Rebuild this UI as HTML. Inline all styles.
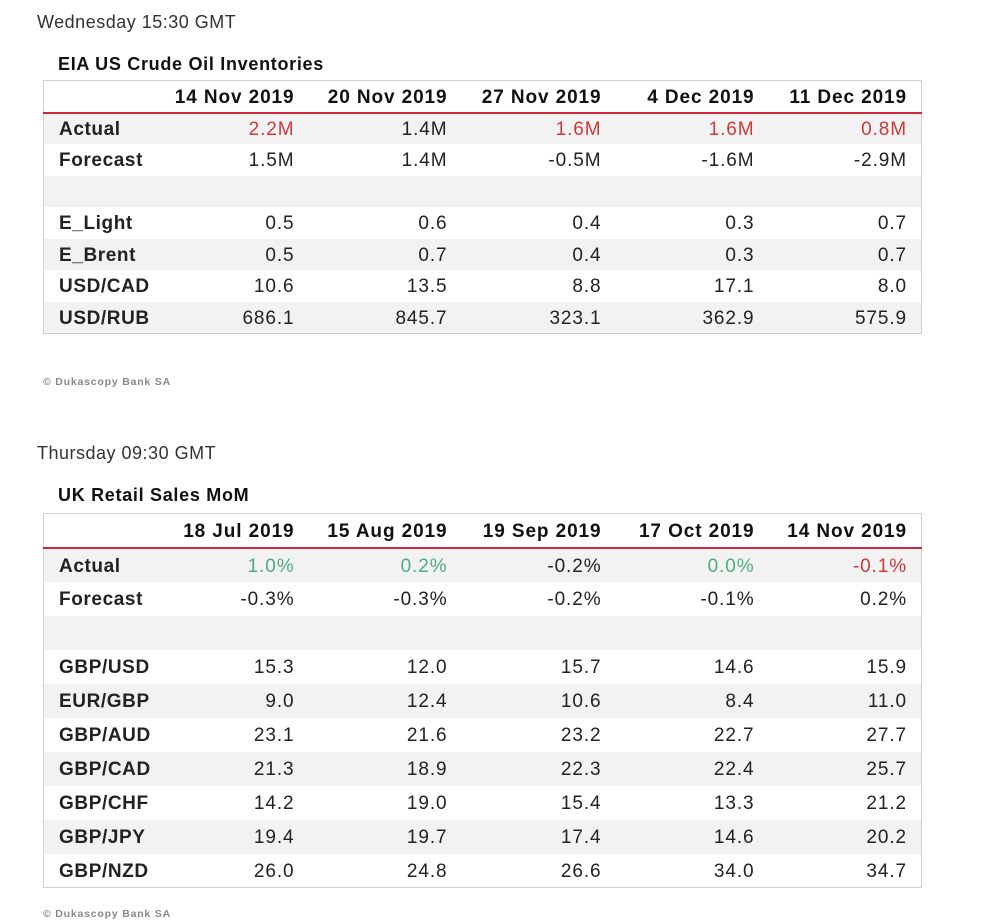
<!DOCTYPE html>
<html><head><meta charset="utf-8"><style>
body{margin:0;background:#fff;width:992px;height:923px;position:relative;overflow:hidden;font-family:"Liberation Sans",sans-serif;}
.abs{position:absolute;}
.day{font-size:18px;letter-spacing:0.5px;color:#333;left:37px;}
.title{font-size:18px;letter-spacing:0.7px;font-weight:bold;color:#111;left:58px;}
.copy{font-size:10.5px;letter-spacing:0.8px;font-weight:bold;color:#888;left:43px;}
table{position:absolute;left:43px;width:878px;border-collapse:collapse;border:1px solid #d0d0d0;table-layout:fixed;font-size:19px;letter-spacing:0.9px;color:#222;}
td{padding:3px 14px 0 0;text-align:right;white-space:nowrap;box-sizing:border-box;}
td:first-child{text-align:left;padding-left:15px;font-weight:bold;letter-spacing:0.6px;}
tr.h td{font-weight:bold;color:#111;border-bottom:2px solid #d0283a;}
tr.g td{background:#f2f2f2;}
.r{color:#d03a3a}.gr{color:#4cad7f}
#t1 tr{height:31.5px}
#t2 tr{height:34px}
</style></head><body>
<div class="abs day" style="top:12px">Wednesday 15:30 GMT</div>
<div class="abs title" style="top:54px;left:58px">EIA US Crude Oil Inventories</div>
<table id="t1" style="top:80px">
<colgroup><col style="width:100px"><col style="width:165px"><col style="width:153px"><col style="width:154px"><col style="width:153px"><col style="width:153px"></colgroup>
<tr class="h" style="height:32px"><td></td><td>14 Nov 2019</td><td>20 Nov 2019</td><td>27 Nov 2019</td><td>4 Dec 2019</td><td>11 Dec 2019</td></tr>
<tr class="g"><td>Actual</td><td class="r">2.2M</td><td>1.4M</td><td class="r">1.6M</td><td class="r">1.6M</td><td class="r">0.8M</td></tr>
<tr><td>Forecast</td><td>1.5M</td><td>1.4M</td><td>-0.5M</td><td>-1.6M</td><td>-2.9M</td></tr>
<tr class="g"><td></td><td></td><td></td><td></td><td></td><td></td></tr>
<tr><td>E_Light</td><td>0.5</td><td>0.6</td><td>0.4</td><td>0.3</td><td>0.7</td></tr>
<tr class="g"><td>E_Brent</td><td>0.5</td><td>0.7</td><td>0.4</td><td>0.3</td><td>0.7</td></tr>
<tr><td>USD/CAD</td><td>10.6</td><td>13.5</td><td>8.8</td><td>17.1</td><td>8.0</td></tr>
<tr class="g"><td>USD/RUB</td><td>686.1</td><td>845.7</td><td>323.1</td><td>362.9</td><td>575.9</td></tr>
</table>
<div class="abs copy" style="top:376px">© Dukascopy Bank SA</div>
<div class="abs day" style="top:443px">Thursday 09:30 GMT</div>
<div class="abs title" style="top:485px">UK Retail Sales MoM</div>
<table id="t2" style="top:513px">
<colgroup><col style="width:100px"><col style="width:165px"><col style="width:153px"><col style="width:154px"><col style="width:153px"><col style="width:153px"></colgroup>
<tr class="h" style="height:34px"><td></td><td>18 Jul 2019</td><td>15 Aug 2019</td><td>19 Sep 2019</td><td>17 Oct 2019</td><td>14 Nov 2019</td></tr>
<tr class="g"><td>Actual</td><td class="gr">1.0%</td><td class="gr">0.2%</td><td>-0.2%</td><td class="gr">0.0%</td><td class="r">-0.1%</td></tr>
<tr><td>Forecast</td><td>-0.3%</td><td>-0.3%</td><td>-0.2%</td><td>-0.1%</td><td>0.2%</td></tr>
<tr class="g"><td></td><td></td><td></td><td></td><td></td><td></td></tr>
<tr><td>GBP/USD</td><td>15.3</td><td>12.0</td><td>15.7</td><td>14.6</td><td>15.9</td></tr>
<tr class="g"><td>EUR/GBP</td><td>9.0</td><td>12.4</td><td>10.6</td><td>8.4</td><td>11.0</td></tr>
<tr><td>GBP/AUD</td><td>23.1</td><td>21.6</td><td>23.2</td><td>22.7</td><td>27.7</td></tr>
<tr class="g"><td>GBP/CAD</td><td>21.3</td><td>18.9</td><td>22.3</td><td>22.4</td><td>25.7</td></tr>
<tr><td>GBP/CHF</td><td>14.2</td><td>19.0</td><td>15.4</td><td>13.3</td><td>21.2</td></tr>
<tr class="g"><td>GBP/JPY</td><td>19.4</td><td>19.7</td><td>17.4</td><td>14.6</td><td>20.2</td></tr>
<tr><td>GBP/NZD</td><td>26.0</td><td>24.8</td><td>26.6</td><td>34.0</td><td>34.7</td></tr>
</table>
<div class="abs copy" style="top:908px">© Dukascopy Bank SA</div>
</body></html>
